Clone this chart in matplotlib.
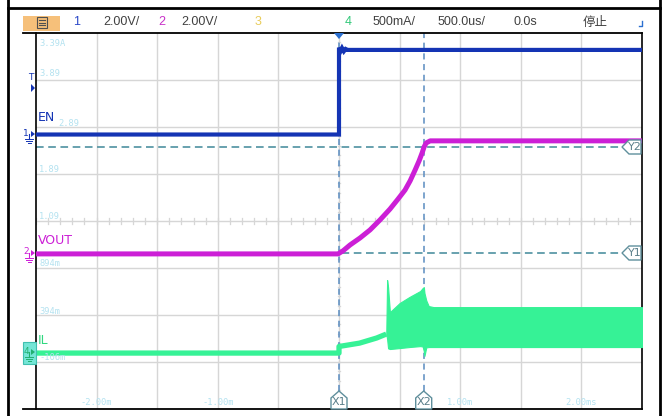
import matplotlib
matplotlib.use("Agg")
import matplotlib.pyplot as plt
from matplotlib.patches import Polygon, Rectangle
from matplotlib.lines import Line2D

W, H = 668, 416

# ---- scope settings -------------------------------------------------------
time_per_div = 0.5            # ms / div  (500.0us/)
x_divs = 10
y_divs = 8
ch_labels = ["EN", "VOUT", "IL"]
ch_colors = ["#1434b4", "#cc1fd6", "#36f296"]
ch_offsets = [1.83, -0.70, -2.81]   # ground marker position, div
ch_scales = [2.0, 2.0, 500.0]       # V/div, V/div, mA/div

# ---- captured traces (time in ms) ----------------------------------------
en_t = [-2.5, 0.0, 0.0, 0.012, 0.025, 0.04, 0.055, 0.07, 2.5]
en_v = [0.02, 0.02, 3.72, 3.56, 3.70, 3.56, 3.66, 3.62, 3.62]

vout_t = [-2.5, -0.008, 0.033, 0.091, 0.174, 0.256, 0.339, 0.421, 0.488, 0.545,
          0.587, 0.628, 0.661, 0.686, 0.702, 0.719, 0.752, 2.5]
vout_v = [0.0, 0.0, 0.13, 0.38, 0.68, 1.02, 1.45, 1.91, 2.34, 2.72,
          3.11, 3.57, 3.96, 4.30, 4.55, 4.72, 4.81, 4.81]

il_t = [-2.5, 0.0, 0.0, 0.17, 0.31, 0.39]
il_i = [0.0, 0.0, 70.0, 106.0, 160.0, 202.0]

# switching ripple envelope of IL
ripple_t = [0.39, 0.397, 0.405, 0.42, 0.50, 0.58, 0.67, 0.69, 0.70, 0.705, 0.72, 0.74, 0.78, 2.5]
ripple_hi = [202, 777, 700, 436, 532, 596, 660, 691, 702, 640, 560, 500, 489, 489]
ripple_lo = [202, 150, 50, 43, 53, 64, 74, 70, 20, -30, 60, 64, 64, 64]

x1_ms, x2_ms = 0.0, 0.70
y1_div, y2_div = (221 - 253) / 47, (221 - 147) / 47

grid_labels_y = ["3.39A", "3.89", "2.89", "1.89", "1.09", "894m", "394m", "-106m"]
grid_labels_y_px = [43, 74, 124, 170, 216, 264, 311, 357]
grid_labels_y_x = [39, 39, 58, 39, 39, 39, 39, 39]
grid_labels_x = ["-2.00m", "-1.00m", "1.00m", "2.00ms"]
grid_labels_x_ms = [-2.0, -1.0, 1.0, 2.0]


def fx(px):
    return px / W


def fy(py):
    return 1 - py / H


def to_div(values, ch):
    return [ch_offsets[ch] + v / ch_scales[ch] for v in values]


fig = plt.figure(figsize=(W / 100, H / 100), dpi=100)
fig.patch.set_facecolor("white")

L, R, T, B = 36, 642, 33, 409
ax = fig.add_axes([fx(L), fy(B), fx(R) - fx(L), fy(T) - fy(B)])
xmin, xmax = -x_divs / 2 * time_per_div, x_divs / 2 * time_per_div
ax.set_xlim(xmin, xmax)
ax.set_ylim(-y_divs / 2, y_divs / 2)
ax.set_xticks([])
ax.set_yticks([])
for s in ["top", "bottom"]:
    ax.spines[s].set_visible(False)
for s in ["left", "right"]:
    ax.spines[s].set_color("black")
    ax.spines[s].set_linewidth(1.2)

# graticule
grid_c = "#d6d6d6"
for i in range(1, x_divs):
    ax.axvline(xmin + i * time_per_div, color=grid_c, lw=1.0, zorder=1)
for j in range(1, y_divs):
    ax.axhline(-y_divs / 2 + j, color=grid_c, lw=1.0, zorder=1)
# minor marks on the centre lines
for k in range(-25, 26):
    xm = k * time_per_div / 5
    ax.plot([xm, xm], [-0.06, 0.06], color=grid_c, lw=0.9, zorder=1)
for k in range(-20, 21):
    ym = k / 5
    ax.plot([-0.012, 0.012], [ym, ym], color=grid_c, lw=0.9, zorder=1)

# faint scale readouts
lab_c = "#b4e2f0"
for txt, py, px in zip(grid_labels_y, grid_labels_y_px, grid_labels_y_x):
    fig.text(fx(px), fy(py), txt, color=lab_c, fontsize=6.3, va="center",
             ha="left", family="DejaVu Sans Mono")
for txt, ms in zip(grid_labels_x, grid_labels_x_ms):
    ax.text(ms, -3.87, txt, color=lab_c, fontsize=6.3, ha="center", va="center",
            family="DejaVu Sans Mono")

# cursors
cur_x_c = "#5a8cc0"
cur_y_c = "#3f8898"
for xm in (x1_ms, x2_ms):
    ax.plot([xm, xm], [-y_divs / 2 + 18 / 47, y_divs / 2], color=cur_x_c, lw=1.1,
            ls=(0, (4, 3)), zorder=2)
for yd in (y1_div, y2_div):
    ax.plot([xmin, xmin + (622 - L) / 121], [yd, yd], color=cur_y_c, lw=1.1,
            ls=(0, (5, 3)), zorder=2)

# traces
ax.plot(en_t, to_div(en_v, 0), color=ch_colors[0], lw=3.0, zorder=4,
        solid_joinstyle="miter")
ax.plot(vout_t, to_div(vout_v, 1), color=ch_colors[1], lw=3.6, zorder=4,
        solid_capstyle="butt", solid_joinstyle="round")
ax.plot(il_t, to_div(il_i, 2), color=ch_colors[2], lw=3.8, zorder=4,
        solid_capstyle="butt")
ax.fill_between(ripple_t, to_div(ripple_hi, 2), to_div(ripple_lo, 2),
                color=ch_colors[2], lw=0.8, zorder=4)

# trace names
ax.text(xmin + 2 / 121, ch_offsets[0] + 17 / 47, ch_labels[0], color=ch_colors[0],
        fontsize=9, va="center", ha="left", zorder=5)
ax.text(xmin + 2 / 121, ch_offsets[1] + 13 / 47, ch_labels[1], color=ch_colors[1],
        fontsize=9, va="center", ha="left", zorder=5)
ax.text(xmin + 2 / 121, ch_offsets[2] + 13 / 47, ch_labels[2], color="#30d880",
        fontsize=9, va="center", ha="left", zorder=5)

# cursor tags
tag_edge = "#5f8f9c"
for yd, name in ((y2_div, "Y2"), (y1_div, "Y1")):
    py = 221 - yd * 47
    pts = [(fx(622), fy(py)), (fx(629), fy(py - 7)), (fx(641), fy(py - 7)),
           (fx(641), fy(py + 7)), (fx(629), fy(py + 7))]
    fig.patches.append(Polygon(pts, closed=True, transform=fig.transFigure,
                               facecolor="white", edgecolor=tag_edge, lw=1.0, zorder=6))
    fig.text(fx(635), fy(py), name, color="#5a7f8a", fontsize=8, ha="center",
             va="center", zorder=7)
for xm, name in ((x1_ms, "X1"), (x2_ms, "X2")):
    px = 339 + xm * 121
    pts = [(fx(px), fy(391)), (fx(px + 8), fy(398)), (fx(px + 8), fy(409)),
           (fx(px - 8), fy(409)), (fx(px - 8), fy(398))]
    fig.patches.append(Polygon(pts, closed=True, transform=fig.transFigure,
                               facecolor="white", edgecolor=tag_edge, lw=1.0, zorder=6))
    fig.text(fx(px), fy(402), name, color="#5a7f8a", fontsize=8, ha="center",
             va="center", zorder=7)

# trigger position marker
fig.patches.append(Polygon([(fx(334), fy(33)), (fx(344), fy(33)), (fx(339), fy(39))],
                           closed=True, transform=fig.transFigure,
                           facecolor="#2a6fd0", edgecolor="none", zorder=7))

# frame lines
for (xa, xb, ya, yb, lw) in ((23, 642, 33, 33, 1.3), (23, 642, 409, 409, 1.3),
                              (8, 8, 0, 416, 2.0), (660, 660, 0, 416, 2.0),
                              (8, 660, 8, 8, 2.0)):
    fig.add_artist(Line2D([fx(xa), fx(xb)], [fy(ya), fy(yb)], color="black", lw=lw))

# left side markers
fig.text(fx(31), fy(78), "T", color="#1434b4", fontsize=6.5, ha="center", va="center")
fig.patches.append(Polygon([(fx(31), fy(84)), (fx(31), fy(92)), (fx(35), fy(88))],
                           closed=True, transform=fig.transFigure,
                           facecolor="#1434b4", edgecolor="none"))


def ground_marker(py, num, color, box=None):
    if box is not None:
        fig.patches.append(Rectangle((fx(23), fy(py + 11)), fx(13), fy(py - 11) - fy(py + 11),
                                     transform=fig.transFigure, facecolor=box,
                                     edgecolor="#40c0b0", lw=0.8))
    fig.text(fx(26), fy(py - 2), num, color=color, fontsize=6.5, ha="center", va="center")
    fig.patches.append(Polygon([(fx(31), fy(py - 4)), (fx(31), fy(py + 2)), (fx(35), fy(py - 1))],
                               closed=True, transform=fig.transFigure,
                               facecolor=color, edgecolor="none"))
    fig.add_artist(Line2D([fx(29), fx(29)], [fy(py - 1), fy(py + 4)], color=color, lw=0.8))
    for k, hw in enumerate((4, 3, 1.5)):
        yy = py + 4 + k * 2
        fig.add_artist(Line2D([fx(29 - hw), fx(29 + hw)], [fy(yy), fy(yy)], color=color, lw=0.7))


ground_marker(135, "1", "#1434b4")
ground_marker(254, "2", "#cc1fd6")
ground_marker(353, "4", "#22b070", box="#74e6d6")

# header bar
fig.patches.append(Rectangle((fx(23), fy(31)), fx(60) - fx(23), fy(16) - fy(31),
                             transform=fig.transFigure, facecolor="#f6c07a",
                             edgecolor="none"))
fig.patches.append(Rectangle((fx(37), fy(28)), fx(10), fy(17) - fy(28),
                             transform=fig.transFigure, facecolor="none",
                             edgecolor="#505050", lw=0.8))
for yy in (20, 22.5, 25):
    fig.add_artist(Line2D([fx(39), fx(45)], [fy(yy), fy(yy)], color="#505050", lw=0.8))

hdr_font = ["Liberation Sans"]
hdr_items = [
    (73, "1", "#2a48c8"),
    (103, "2.00V/", "#404040"),
    (158, "2", "#c830c8"),
    (181, "2.00V/", "#404040"),
    (255, "3", "#e8cc5a"),
    (345, "4", "#30c878"),
    (373, "500mA/", "#404040"),
    (438, "500.0us/", "#404040"),
    (514, "0.0s", "#404040"),
]
for px, txt, col in hdr_items:
    fig.text(fx(px), fy(22), txt, color=col, fontsize=9, ha="left", va="center",
             family=hdr_font)
fig.text(fx(583), fy(22), "停止", color="#404040", fontsize=9, ha="left", va="center",
         family=["Noto Sans CJK SC", "DejaVu Sans"])
fig.add_artist(Line2D([fx(639), fx(642), fx(642)], [fy(26), fy(26), fy(21)],
                      color="#2a6fd0", lw=1.0))

fig.savefig("out.png", dpi=100, facecolor="white")
